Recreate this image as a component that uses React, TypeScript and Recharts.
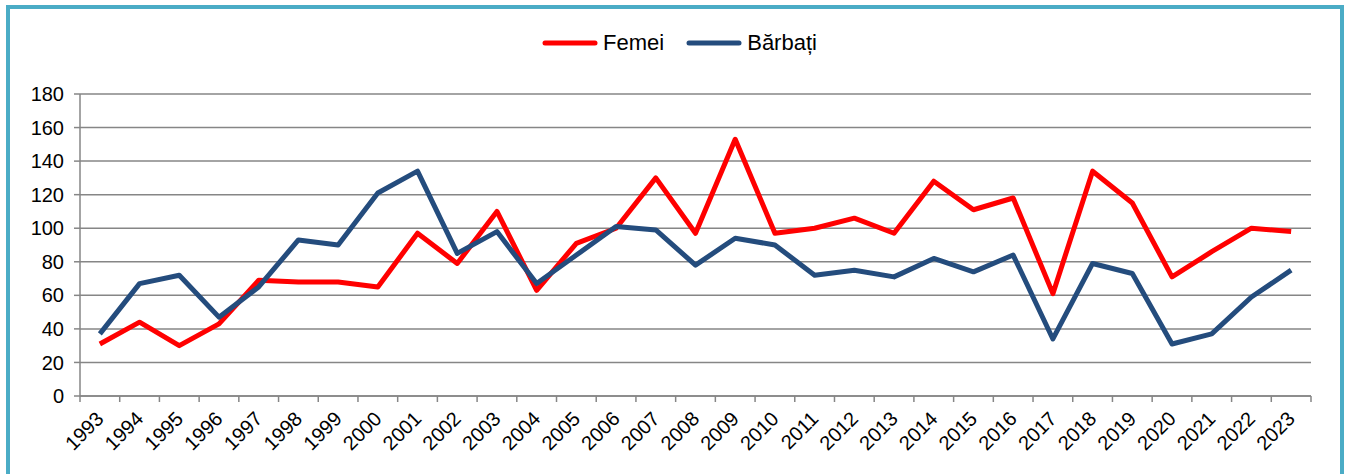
import React from 'react';
import { LineChart, Line, XAxis, YAxis, CartesianGrid, Legend } from 'recharts';

const years = ['1993','1994','1995','1996','1997','1998','1999','2000','2001','2002','2003','2004','2005','2006','2007','2008','2009','2010','2011','2012','2013','2014','2015','2016','2017','2018','2019','2020','2021','2022','2023'];
const femei = [31, 44, 30, 43, 69, 68, 68, 65, 97, 79, 110, 63, 91, 100, 130, 97, 153, 97, 100, 106, 97, 128, 111, 118, 61, 134, 115, 71, 86, 100, 98];
const barbati = [37, 67, 72, 47, 65, 93, 90, 121, 134, 85, 98, 67, 84, 101, 99, 78, 94, 90, 72, 75, 71, 82, 74, 84, 34, 79, 73, 31, 37, 59, 75];
const yTicks = [0, 20, 40, 60, 80, 100, 120, 140, 160, 180];

const data = years.map((y, i) => ({ year: y, Femei: femei[i], Barbati: barbati[i] }));

const W = 1346;
const H = 474;
const M = { top: 68, right: 35, left: 0, bottom: 8 };
const Y_W = 80;
const BAND = (W - M.left - M.right - Y_W) / years.length;
const FONT = '"Liberation Sans", Arial, sans-serif';
const GRID = '#868686';
const RED = '#FF0000';
const BLUE = '#244C7D';

const XTick = (props: any) => {
  const { x, y, payload, index } = props;
  const isLast = index === years.length - 1;
  const ax = x + 5;
  const ay = y + 24;
  return (
    <g>
      <line x1={x - BAND / 2} y1={y} x2={x - BAND / 2} y2={y + 6} stroke={GRID} strokeWidth={1.5} />
      {isLast && <line x1={x + BAND / 2} y1={y} x2={x + BAND / 2} y2={y + 6} stroke={GRID} strokeWidth={1.5} />}
      <text
        x={ax}
        y={ay}
        transform={`rotate(-45, ${ax}, ${ay})`}
        textAnchor="end"
        fontSize={20}
        fontFamily={FONT}
        fill="#000"
      >
        {payload.value}
      </text>
    </g>
  );
};

const LegendContent = () => {
  const items = [
    { label: 'Femei', color: RED },
    { label: 'Bărbați', color: BLUE },
  ];
  return (
    <div style={{ display: 'flex', justifyContent: 'center', alignItems: 'center', height: 26, paddingLeft: 13, fontFamily: FONT, fontSize: 22, color: '#000' }}>
      {items.map((it, i) => (
        <div key={it.label} style={{ display: 'flex', alignItems: 'center', marginLeft: i === 0 ? 0 : 22 }}>
          <svg width={56} height={8} style={{ marginRight: 5 }}>
            <line x1={3} y1={4} x2={53} y2={4} stroke={it.color} strokeWidth={5} strokeLinecap="round" />
          </svg>
          <span>{it.label}</span>
        </div>
      ))}
    </div>
  );
};

export default function App() {
  return (
    <div style={{ position: 'absolute', left: 0, top: 0, width: W, height: H, background: '#fff', overflow: 'hidden' }}>
      <div style={{ position: 'absolute', left: 6, top: 5, width: 1330, height: 500, border: '4px solid #4BACC6' }} />
      <div style={{ position: 'absolute', left: 0, top: 0 }}>
        <LineChart width={W} height={H} data={data} margin={M}>
          <CartesianGrid vertical={false} stroke={GRID} strokeWidth={1.5} />
          <XAxis
            dataKey="year"
            interval={0}
            tickLine={false}
            tickSize={0}
            tickMargin={0}
            height={70}
            padding={{ left: BAND / 2, right: BAND / 2 }}
            axisLine={{ stroke: GRID, strokeWidth: 1.5 }}
            tick={<XTick />}
          />
          <YAxis
            domain={[0, 180]}
            ticks={yTicks}
            width={Y_W}
            tickSize={6}
            tickMargin={10}
            axisLine={{ stroke: GRID, strokeWidth: 1.5 }}
            tickLine={{ stroke: GRID, strokeWidth: 1.5 }}
            tick={{ fontSize: 20, fill: '#000', fontFamily: FONT }}
          />
          <Legend verticalAlign="top" content={<LegendContent />} wrapperStyle={{ top: 30, left: 0, width: W }} />
          <Line type="linear" dataKey="Femei" name="Femei" stroke={RED} strokeWidth={5} dot={false} strokeLinejoin="round" isAnimationActive={false} />
          <Line type="linear" dataKey="Barbati" name="Bărbați" stroke={BLUE} strokeWidth={5} dot={false} strokeLinejoin="round" isAnimationActive={false} />
        </LineChart>
      </div>
    </div>
  );
}
